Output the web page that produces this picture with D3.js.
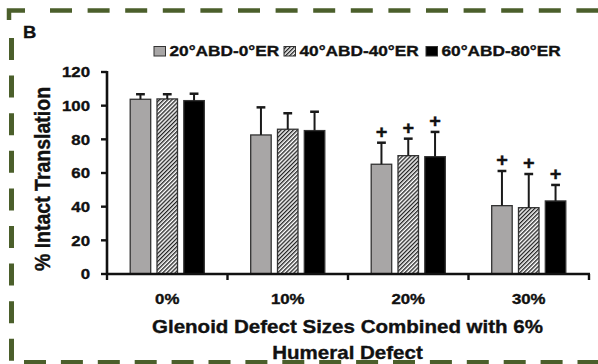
<!DOCTYPE html>
<html>
<head>
<meta charset="utf-8">
<script src="https://cdn.jsdelivr.net/npm/d3@7"></script>
<style>
  html, body { margin: 0; padding: 0; background: #fff; }
  svg { display: block; }
  text { font-family: "Liberation Sans", Arial, sans-serif; font-weight: bold; fill: #111; stroke: #111; stroke-width: 0.35px; }
</style>
</head>
<body>
<svg id="chart" width="598" height="364"></svg>
<script>
// Intact translation (%) by glenoid defect size, three arm positions
const categories = ["0%", "10%", "20%", "30%"];
const seriesNames = ["20°ABD-0°ER", "40°ABD-40°ER", "60°ABD-80°ER"];
const meanABD20 = [103.8, 82.6, 65.2, 40.6];
const errABD20  = [3.0, 16.4, 12.8, 20.6];
const meanABD40 = [104.0, 86.0, 70.3, 39.4];
const errABD40  = [2.8, 9.5, 10.1, 20.0];
const meanABD60 = [103.0, 85.2, 69.7, 43.4];
const errABD60  = [4.1, 11.2, 14.7, 9.5];
const significant = [false, false, true, true];
const yTicks = [0, 20, 40, 60, 80, 100, 120];

const means = [meanABD20, meanABD40, meanABD60];
const errs = [errABD20, errABD40, errABD60];
const fills = ["#a8a6a6", "url(#hatch)", "#000"];

const svg = d3.select("#chart");
const K = 1.16; // horizontal text stretch

// hatch pattern for the middle series
const defs = svg.append("defs");
const pat = defs.append("pattern")
  .attr("id", "hatch").attr("patternUnits", "userSpaceOnUse")
  .attr("width", 2.9).attr("height", 10)
  .attr("patternTransform", "rotate(45)");
pat.append("rect").attr("width", 2.9).attr("height", 10).attr("fill", "#fff");
pat.append("line").attr("x1", 0.7).attr("x2", 0.7).attr("y1", 0).attr("y2", 10)
  .attr("stroke", "#111").attr("stroke-width", 1.25);

// dashed frame
const green = "#4b5f2b";
const frame = svg.append("g").attr("fill", "none").attr("stroke", green).attr("stroke-width", 4.5);
frame.append("path").attr("d", "M9,20 V10.5 H25");
frame.append("line").attr("x1", 50).attr("x2", 598).attr("y1", 10.5).attr("y2", 10.5)
  .attr("stroke-dasharray", "22 15.6");
frame.append("line").attr("x1", 11.5).attr("x2", 11.5).attr("y1", 38).attr("y2", 364)
  .attr("stroke-dasharray", "22 15.6").attr("stroke-width", 5);
frame.append("line").attr("x1", 24).attr("x2", 598).attr("y1", 362.5).attr("y2", 362.5)
  .attr("stroke-dasharray", "22 14.9").attr("stroke-width", 5);

// scales
const x = d3.scaleBand().domain(categories).range([107, 589]).paddingInner(0).paddingOuter(0);
const xInner = d3.scaleBand().domain(seriesNames).range([-40.2, 40.2]).paddingInner(0.235).paddingOuter(0.1175);
const y = d3.scaleLinear().domain([0, 120]).range([274, 72]);

function stretched(g, tx, ty, str, size, anchor, k) {
  return g.append("text")
    .attr("transform", `translate(${tx},${ty}) scale(${k || K},1)`)
    .attr("text-anchor", anchor || "start")
    .style("font-size", size + "px")
    .text(str);
}

// panel letter
stretched(svg, 23, 37.5, "B", 16.5, "start", 1.12);

// legend
const legendX = [154, 284, 426];
const leg = svg.append("g");
seriesNames.forEach((name, i) => {
  leg.append("rect").attr("x", legendX[i]).attr("y", 46.5).attr("width", 11.5).attr("height", 9.5)
    .attr("fill", fills[i]).attr("stroke", "#333").attr("stroke-width", 1);
  stretched(leg, legendX[i] + 15.5, 56.3, name, 14.5, "start", 1.19);
});

// y axis
const yAxis = svg.append("g");
yAxis.append("line").attr("x1", x.range()[0]).attr("x2", x.range()[0])
  .attr("y1", y(120) - 1).attr("y2", y(0) + 1).attr("stroke", "#111").attr("stroke-width", 2.6);
yTicks.forEach(t => {
  yAxis.append("line").attr("x1", x.range()[0] - 6).attr("x2", x.range()[0])
    .attr("y1", y(t)).attr("y2", y(t)).attr("stroke", "#111").attr("stroke-width", 2.4);
  stretched(yAxis, 90, y(t) + 5.3, String(t), 14.5, "end");
});

// y title
svg.append("text")
  .attr("transform", `translate(50,179) scale(1.15,1) rotate(-90)`)
  .attr("text-anchor", "middle").style("font-size", "19.5px")
  .text("% Intact Translation");

// bars
const bars = svg.append("g");
seriesNames.forEach((name, s) => {
  categories.forEach((c, i) => {
    const cx = x(c) + x.bandwidth() / 2 + xInner(name);
    bars.append("rect")
      .attr("x", cx).attr("y", y(means[s][i]))
      .attr("width", xInner.bandwidth()).attr("height", y(0) - y(means[s][i]))
      .attr("fill", fills[s]).attr("stroke", "#333").attr("stroke-width", 1.3);
  });
});

// error bars (upper only) and significance marks
const eb = svg.append("g").attr("stroke", "#1a1a1a");
seriesNames.forEach((name, s) => {
  categories.forEach((c, i) => {
    const mx = x(c) + x.bandwidth() / 2 + xInner(name) + xInner.bandwidth() / 2;
    const top = y(means[s][i] + errs[s][i]);
    eb.append("line").attr("x1", mx).attr("x2", mx)
      .attr("y1", y(means[s][i])).attr("y2", top).attr("stroke-width", 2);
    eb.append("line").attr("x1", mx - 4.4).attr("x2", mx + 4.4)
      .attr("y1", top).attr("y2", top).attr("stroke-width", 2.5);
    if (significant[i]) {
      stretched(svg, mx, top - 5, "+", 19, "middle", 1.05);
    }
  });
});

// x axis with ticks at category boundaries
const xAxis = svg.append("g");
xAxis.append("line").attr("x1", x.range()[0] - 1).attr("x2", x.range()[1] + 1)
  .attr("y1", y(0)).attr("y2", y(0)).attr("stroke", "#111").attr("stroke-width", 2.6);
categories.map(c => x(c)).concat([x.range()[1]]).forEach(bx => {
  xAxis.append("line").attr("x1", bx).attr("x2", bx).attr("y1", y(0)).attr("y2", y(0) + 6)
    .attr("stroke", "#111").attr("stroke-width", 2.4);
});
categories.forEach(c => {
  stretched(xAxis, x(c) + x.bandwidth() / 2, 303.8, c, 14.5, "middle");
});

// x title
const xt = x.range()[0] + (x.range()[1] - x.range()[0]) / 2 - 0.5;
stretched(svg, xt, 332.5, "Glenoid Defect Sizes Combined with 6%", 18, "middle", 1.14);
stretched(svg, xt, 358.5, "Humeral Defect", 18, "middle", 1.14);
</script>
</body>
</html>
